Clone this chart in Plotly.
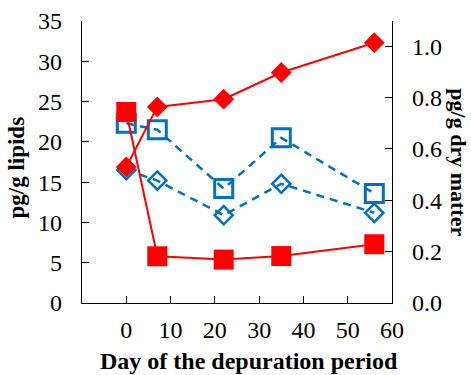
import plotly.graph_objects as go

days = [0, 7, 22, 35, 56]
# left axis (pg/g lipids)
blue_squares = [22.3, 21.5, 14.2, 20.5, 13.6]
blue_diamonds = [16.5, 15.2, 10.9, 14.8, 11.2]
# right axis (pg/g dry matter)
red_diamonds = [0.53, 0.764, 0.794, 0.898, 1.014]
red_squares = [0.744, 0.182, 0.169, 0.183, 0.229]

x_ticks = [0, 10, 20, 30, 40, 50, 60]
y_ticks = [0, 5, 10, 15, 20, 25, 30, 35]
y2_ticks = [0.0, 0.2, 0.4, 0.6, 0.8, 1.0]
y2_labels = ["0.0", "0.2", "0.4", "0.6", "0.8", "1.0"]

RED = "#FF0000"
BLUE = "#0070C0"
FONT = "Liberation Serif, Times New Roman, Tinos, serif"

fig = go.Figure()
fig.add_trace(go.Scatter(
    x=days, y=blue_squares, yaxis="y", mode="lines+markers",
    line=dict(color=BLUE, width=2.5, dash="8px,6px"),
    marker=dict(symbol="square-open", size=18, color=BLUE, line=dict(width=3, color=BLUE)),
))
fig.add_trace(go.Scatter(
    x=days, y=blue_diamonds, yaxis="y", mode="lines+markers",
    line=dict(color=BLUE, width=2.5, dash="8px,6px"),
    marker=dict(symbol="diamond-open", size=14, color=BLUE, line=dict(width=2.5, color=BLUE)),
))
fig.add_trace(go.Scatter(
    x=days, y=red_diamonds, yaxis="y2", mode="lines+markers",
    line=dict(color=RED, width=2),
    marker=dict(symbol="diamond", size=16, color=RED),
))
fig.add_trace(go.Scatter(
    x=days, y=red_squares, yaxis="y2", mode="lines+markers",
    line=dict(color=RED, width=2),
    marker=dict(symbol="square", size=20, color=RED),
))

axis_common = dict(
    showgrid=False, zeroline=False, showline=True, linecolor="black", linewidth=1.3,
    ticks="inside", ticklen=7, tickcolor="black", tickwidth=1.3, automargin=False,
    tickfont=dict(family=FONT, size=24, color="black"),
)

fig.update_layout(
    width=471, height=375,
    margin=dict(l=82, r=79, t=21, b=72),
    paper_bgcolor="white", plot_bgcolor="white",
    showlegend=False,
    xaxis=dict(range=[-10, 60], tickvals=x_ticks, ticklabelstandoff=5, **axis_common),
    yaxis=dict(range=[0, 35], tickvals=y_ticks, ticklabelstandoff=14, **axis_common),
    yaxis2=dict(range=[0, 1.0986], tickvals=y2_ticks, ticktext=y2_labels,
                overlaying="y", side="right", ticklabelstandoff=14, **axis_common),
    annotations=[
        dict(text="<b>Day of the depuration period</b>", xref="paper", yref="paper",
             x=0.54, y=-0.205, xanchor="center", yanchor="middle", showarrow=False,
             font=dict(family=FONT, size=24, color="black")),
        dict(text="<b>pg/g lipids</b>", xref="paper", yref="paper",
             x=-0.21, y=0.48, xanchor="center", yanchor="middle", showarrow=False,
             textangle=-90, font=dict(family=FONT, size=23, color="black")),
        dict(text="<b>pg/g dry matter</b>", xref="paper", yref="paper",
             x=1.215, y=0.5, xanchor="center", yanchor="middle", showarrow=False,
             textangle=90, font=dict(family=FONT, size=22, color="black")),
    ],
)

fig.write_html("out.html", config={"displayModeBar": False},
               post_script="document.body.style.margin='0px';document.body.style.overflow='hidden';")
